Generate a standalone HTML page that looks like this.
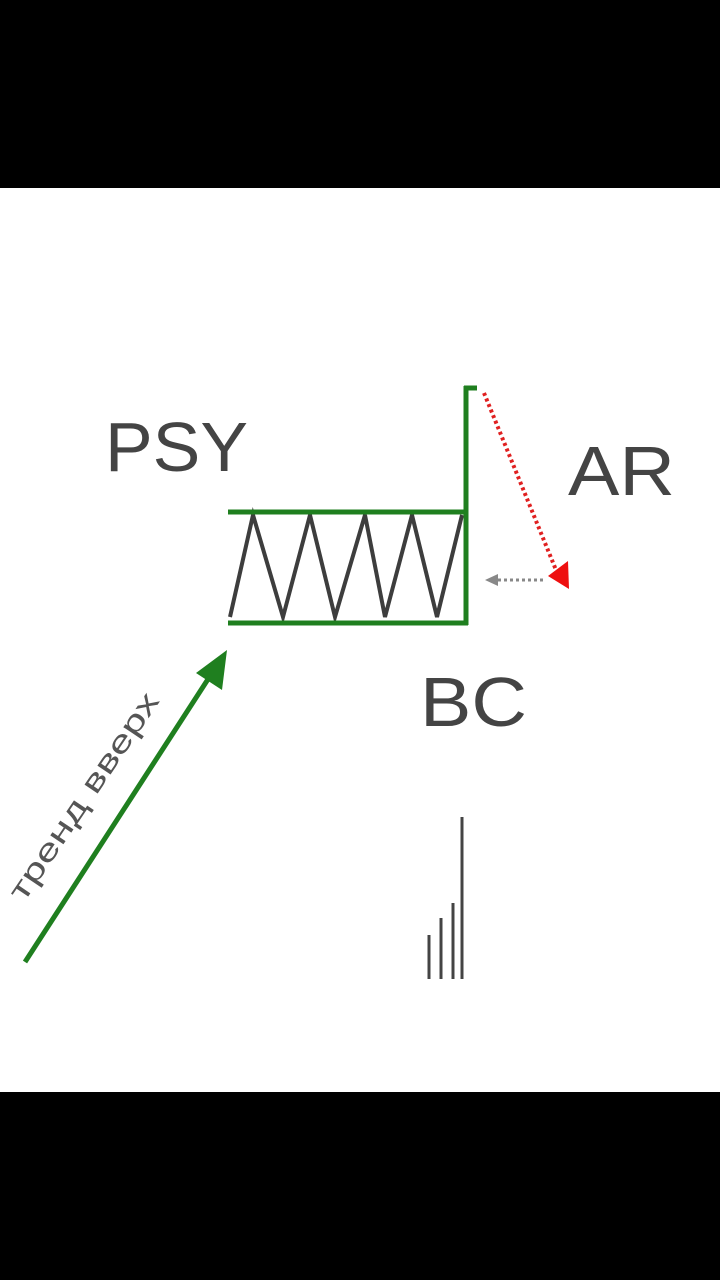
<!DOCTYPE html>
<html><head><style>
html,body{margin:0;padding:0;background:#000;}
svg{display:block;}
</style></head><body>
<svg width="720" height="1280" xmlns="http://www.w3.org/2000/svg">
<rect x="0" y="0" width="720" height="1280" fill="#000"/>
<rect x="0" y="188" width="720" height="904" fill="#fff"/>
<g font-family="Liberation Sans, sans-serif" fill="#444">
<text x="105" y="471" font-size="70" textLength="143" lengthAdjust="spacingAndGlyphs">PSY</text>
<text x="568" y="495" font-size="70" textLength="107" lengthAdjust="spacingAndGlyphs">AR</text>
<text x="420" y="726" font-size="70" textLength="107" lengthAdjust="spacingAndGlyphs">BC</text>
<text transform="translate(92,802) rotate(-56)" x="-122" y="0" font-size="30" textLength="244" lengthAdjust="spacingAndGlyphs" fill="#555">тренд вверх</text>
</g>
<polyline points="230,617 253,515 283,617 310,515 335,617 365,515 385,617 412,515 437,617 462,515" fill="none" stroke="#3d3d3d" stroke-width="4"/>
<g stroke="#1f7f1f" stroke-width="5" fill="none">
<line x1="228" y1="512" x2="468" y2="512"/>
<line x1="228" y1="623" x2="468" y2="623"/>
<line x1="466" y1="386" x2="466" y2="625"/>
<line x1="464" y1="388" x2="477" y2="388"/>
<line x1="25" y1="962" x2="212" y2="673"/>
</g>
<polygon points="227,650 222,690 196,673" fill="#1f7f1f"/>
<line x1="484" y1="393" x2="556" y2="570" stroke="#e02020" stroke-width="4" stroke-dasharray="3,3"/>
<polygon points="569,589 548,576 568,561" fill="#ee1010"/>
<line x1="543" y1="580" x2="495" y2="580" stroke="#888" stroke-width="3" stroke-dasharray="3,3"/>
<polygon points="485,580 498,574 498,586" fill="#888"/>
<g stroke="#444" stroke-width="3">
<line x1="429" y1="935" x2="429" y2="979"/>
<line x1="441" y1="918" x2="441" y2="979"/>
<line x1="453" y1="903" x2="453" y2="979"/>
<line x1="462" y1="817" x2="462" y2="979"/>
</g>
</svg>
</body></html>
